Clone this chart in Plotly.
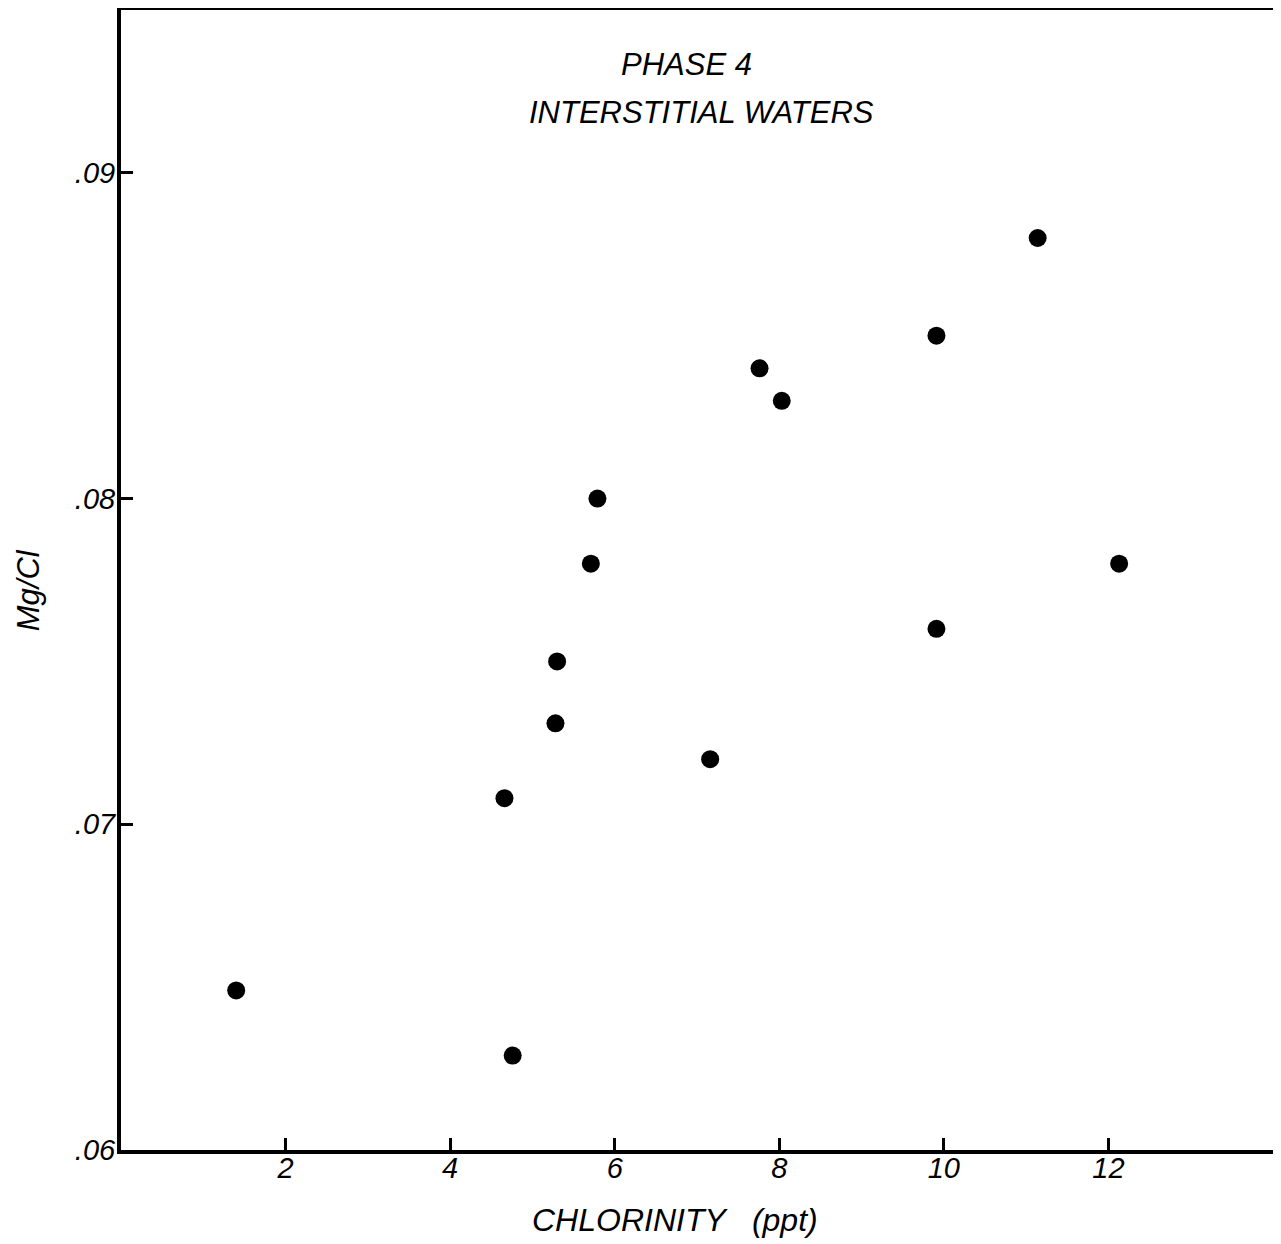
import plotly.graph_objects as go

chlorinity = [1.40, 4.76, 4.66, 5.28, 5.30, 5.71, 5.79, 7.16, 7.76, 8.03, 9.91, 9.91, 11.14, 12.13]
mg_cl = [0.0649, 0.0629, 0.0708, 0.0731, 0.0750, 0.0780, 0.0800, 0.0720, 0.0840, 0.0830, 0.0850, 0.0760, 0.0880, 0.0780]

x_tickvals = [2, 4, 6, 8, 10, 12]
x_ticktext = ["2", "4", "6", "8", "10", "12"]
y_tickvals = [0.06, 0.07, 0.08, 0.09]
y_ticktext = [".06", ".07", ".08", ".09"]

FONT = "Liberation Sans"
tfont = dict(family=FONT, size=31, color="black", style="italic")

fig = go.Figure()
fig.add_trace(go.Scatter(
    x=chlorinity, y=mg_cl, mode="markers",
    marker=dict(color="black", size=18, line=dict(width=0)),
    showlegend=False, hoverinfo="skip"))

axis_common = dict(
    showline=True, linecolor="black", linewidth=4, mirror=True,
    showgrid=False, zeroline=False, automargin=False,
    ticks="inside", ticklen=12, tickwidth=3, tickcolor="black",
    tickfont=dict(family=FONT, size=29, color="black", style="italic"),
)

fig.update_layout(
    width=1281, height=1244,
    paper_bgcolor="white", plot_bgcolor="white",
    margin=dict(l=113, r=16, t=2, b=102, autoexpand=False),
    xaxis=dict(range=[0, 14], tickvals=x_tickvals, ticktext=x_ticktext,
               ticklabelstandoff=-11, **axis_common),
    yaxis=dict(range=[0.06, 0.095], tickvals=y_tickvals, ticktext=y_ticktext,
               ticklabelstandoff=-4, **axis_common),
    annotations=[
        dict(text="PHASE 4", x=0.4905, y=0.9518, xref="paper", yref="paper",
             xanchor="center", yanchor="middle", showarrow=False, font=tfont),
        dict(text="INTERSTITIAL WATERS", x=0.5035, y=0.9105, xref="paper", yref="paper",
             xanchor="center", yanchor="middle", showarrow=False, font=tfont),
        dict(text="CHLORINITY   (ppt)", x=0.481, y=0, yshift=-70, xref="paper", yref="paper",
             xanchor="center", yanchor="middle", showarrow=False,
             font=dict(family=FONT, size=32, color="black", style="italic")),
        dict(text="Mg/Cl", x=0, xshift=-93, y=0.491, xref="paper", yref="paper",
             xanchor="center", yanchor="middle", showarrow=False, textangle=-90, font=tfont),
    ],
)

fig.write_html("out.html")
